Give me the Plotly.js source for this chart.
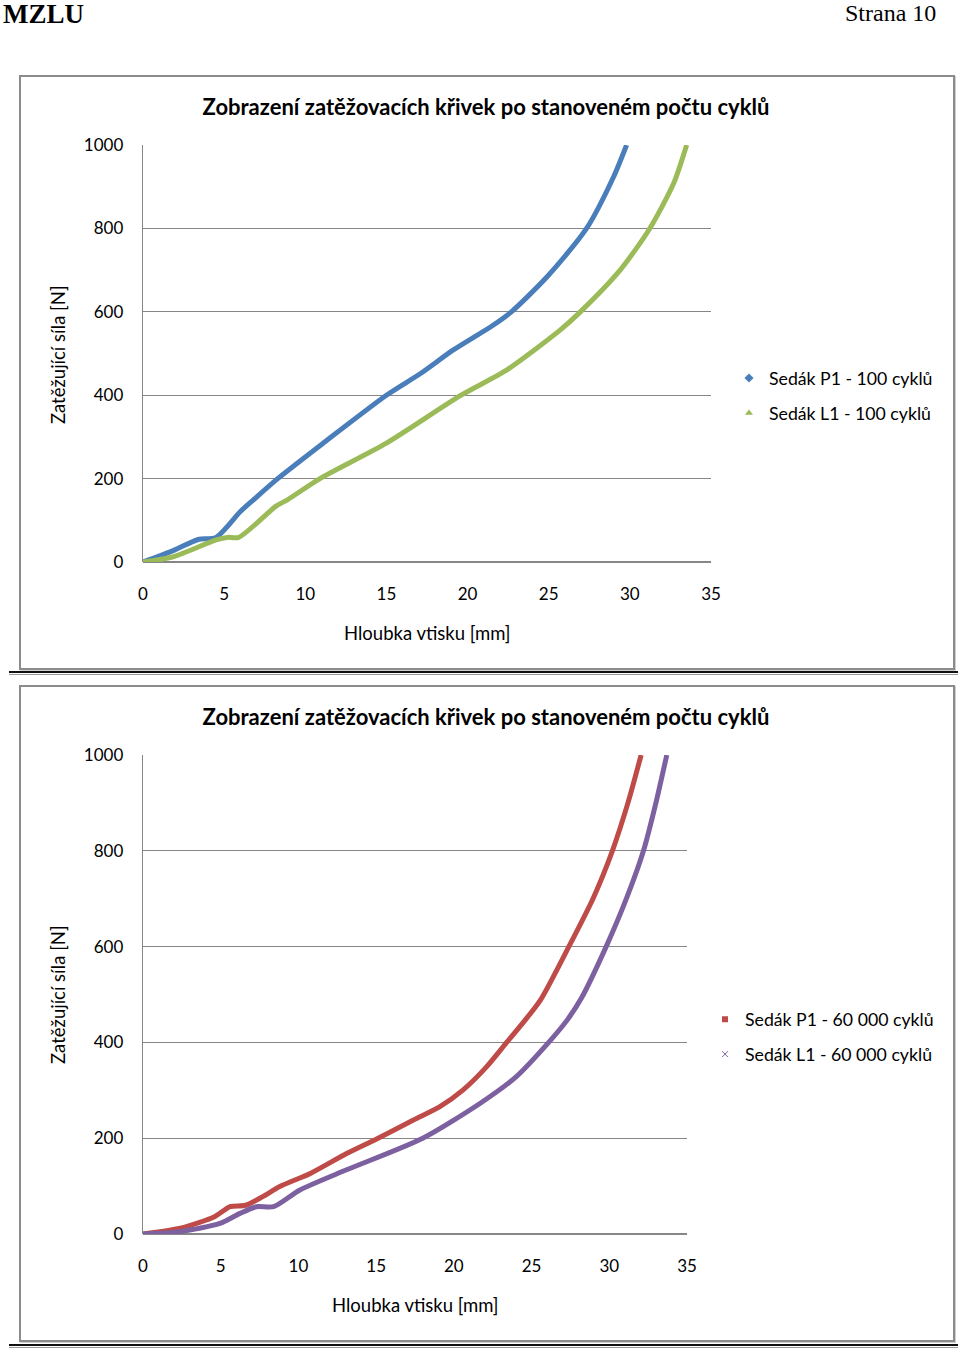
<!DOCTYPE html>
<html><head><meta charset="utf-8">
<script src="https://cdn.plot.ly/plotly-3.0.1.min.js"></script>
<style>
body{margin:0;background:#fff;width:960px;height:1349px;position:relative;overflow:hidden;font-family:'Liberation Serif','Times New Roman',serif;color:#000;}
#hdrL{position:absolute;left:3px;top:1px;font-size:27px;line-height:27px;font-weight:bold;}
#hdrR{position:absolute;left:845px;top:1px;font-size:24px;line-height:24px;}
.frame{position:absolute;border:2px solid #8c8c8c;box-shadow:1px 1px 0 #cfcfcf;background:#fff;}
.plot{position:absolute;left:0;top:0;}
.rule{position:absolute;left:9px;width:949px;height:1px;border-top:2px solid #111;border-bottom:1px solid #9a9a9a;}
</style></head>
<body>
<div id="hdrL">MZLU</div>
<div id="hdrR">Strana 10</div>
<div class="frame" style="left:19px;top:75px;width:932px;height:591px;"><div id="c1" class="plot" style="width:932px;height:591px;"></div></div>
<div class="rule" style="top:671px;"></div>
<div class="frame" style="left:19px;top:685px;width:932px;height:653px;"><div id="c2" class="plot" style="width:932px;height:653px;"></div></div>
<div class="rule" style="top:1344px;"></div>
<script>
// ---- data ----
const chartTitle = "Zobrazení zatěžovacích křivek po stanoveném počtu cyklů";
const xTitle = "Hloubka vtisku [mm]";
const yTitle = "Zatěžující síla [N]";
const xTicks = [0, 5, 10, 15, 20, 25, 30, 35];
const yTicks = [0, 200, 400, 600, 800, 1000];

const nameP1_100 = "Sedák P1 - 100 cyklů";
const p1_100_x = [0, 1.9, 3.4, 4.5, 6.0, 6.8, 8.3, 11.1, 15.0, 17.1, 19.1, 21.5, 22.7, 24.9, 27.3, 29.0, 29.8];
const p1_100_y = [0, 28, 54, 59, 121, 149, 200, 285, 400, 452, 508, 566, 600, 684, 798, 924, 1000];

const nameL1_100 = "Sedák L1 - 100 cyklů";
const l1_100_x = [0, 1.9, 4.5, 5.2, 5.9, 8.2, 8.9, 10.9, 15.0, 19.6, 22.4, 25.7, 26.9, 29.4, 31.2, 32.7, 33.5];
const l1_100_y = [0, 13, 53, 59, 59, 134, 149, 200, 285, 400, 460, 556, 598, 700, 798, 908, 1000];

const nameP1_60k = "Sedák P1 - 60 000 cyklů";
const p1_60k_x = [0, 2.4, 4.6, 5.6, 6.6, 7.7, 8.8, 10.8, 13.1, 15.0, 17.4, 19.1, 20.6, 22.1, 23.4, 24.6, 25.6, 27.4, 28.95, 30.2, 31.2, 32.05];
const p1_60k_y = [0, 12, 36, 57, 60, 78, 99, 127, 168, 198, 238, 266, 301, 349, 400, 447, 490, 600, 700, 800, 900, 1000];

const nameL1_60k = "Sedák L1 - 60 000 cyklů";
const l1_60k_x = [0, 2.4, 4.95, 6.24, 7.3, 8.4, 10.1, 13.1, 18.0, 21.7, 24.0, 26.1, 27.3, 28.2, 29.8, 31.1, 32.2, 33.0, 33.7];
const l1_60k_y = [0, 5, 22, 43, 57, 57, 92, 134, 200, 273, 328, 400, 447, 492, 600, 700, 800, 900, 1000];

// ---- styling ----
const FONT = "Lato, 'Open Sans', sans-serif";
const GRID = "#868686";

function axisX(){
  return {range:[0,35], tickvals:xTicks, ticktext:xTicks.map(String), showgrid:false, zeroline:false,
    showline:false, ticks:"", ticklabelstandoff:20, tickfont:{family:FONT,size:17,color:"#000"}, fixedrange:true};
}
function axisY(){
  return {range:[0,1000], tickvals:yTicks, ticktext:yTicks.map(String), showgrid:true, gridcolor:GRID, gridwidth:1.3,
    zeroline:true, zerolinecolor:GRID, zerolinewidth:1.3, showline:true, linecolor:GRID, linewidth:1.3,
    ticks:"", ticklabelstandoff:15, tickfont:{family:FONT,size:17,color:"#000"}, fixedrange:true};
}
function lineTrace(x,y,color){
  return {x:x, y:y, type:"scatter", mode:"lines", line:{color:color, width:5, shape:"spline", smoothing:0.7},
    showlegend:false, hoverinfo:"skip"};
}
function legendTrace(name,color,symbol,size,group){
  return {x:[null], y:[null], type:"scatter", mode:"markers", name:name, legendgroup:group,
    marker:{color:color, symbol:symbol, size:size}, hoverinfo:"skip"};
}
function makeLayout(h, titleY, xTitleY, yTitleX, yTitleY, legX, legY, marginR){
  return {
    width:932, height:h, paper_bgcolor:"#fff", plot_bgcolor:"#fff",
    margin:{l:122, r:marginR, t:68, b:106, pad:0},
    font:{family:FONT, color:"#000"},
    title:{text:"<b>"+chartTitle+"</b>", font:{family:FONT,size:22,color:"#000"}, xref:"container", yref:"container",
      x:0.4989, xanchor:"center", y:titleY, yanchor:"middle"},
    xaxis:axisX(), yaxis:axisY(),
    showlegend:true,
    legend:{x:legX, xanchor:"left", y:legY, yanchor:"middle", font:{family:FONT,size:17.7,color:"#000"},
      bgcolor:"rgba(0,0,0,0)", borderwidth:0, traceorder:"grouped", tracegroupgap:9},
    annotations:[
      {text:xTitle, xref:"paper", yref:"paper", x:0.5, y:xTitleY, xanchor:"center", yanchor:"middle", showarrow:false,
        font:{family:FONT,size:18.5,color:"#000"}},
      {text:yTitle, xref:"paper", yref:"paper", x:yTitleX, y:yTitleY, xanchor:"center", yanchor:"middle", showarrow:false,
        textangle:-90, font:{family:FONT,size:18.5,color:"#000"}}
    ]
  };
}
const cfg = {displayModeBar:false, staticPlot:true};

Plotly.newPlot("c1", [
  lineTrace(p1_100_x, p1_100_y, "#4A7EBB"),
  lineTrace(l1_100_x, l1_100_y, "#9BBB59"),
  legendTrace(nameP1_100, "#4A7EBB", "diamond", 7, "a"),
  legendTrace(nameL1_100, "#9BBB59", "triangle-up", 7, "b")
], makeLayout(591, 1-30/591, -0.1703, -0.1496, 0.4964, (729-143)/568, 0.398, 242), cfg);

Plotly.newPlot("c2", [
  lineTrace(p1_60k_x, p1_60k_y, "#BE4B48"),
  lineTrace(l1_60k_x, l1_60k_y, "#7D60A0"),
  legendTrace(nameP1_60k, "#BE4B48", "square", 6, "a"),
  legendTrace(nameL1_60k, "#7D60A0", "x-thin-open", 6, "b")
], makeLayout(653, 1-30/653, -0.1482, -0.15625, 0.499, (705-143)/544, 0.411, 266), cfg);
</script>
</body></html>
